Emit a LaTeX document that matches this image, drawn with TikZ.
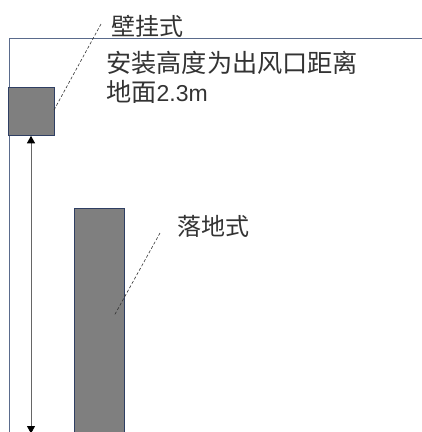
\documentclass[tikz,border=0pt]{standalone}
\usepackage{fontspec}
\newfontfamily\cjk{Noto Sans CJK SC}
\newfontfamily\latn{Liberation Sans}
\usetikzlibrary{arrows.meta}
\definecolor{wallc}{HTML}{5A6B8C}
\definecolor{edgec}{HTML}{2F3F63}
\definecolor{fillc}{HTML}{7F7F7F}
\tikzset{
 unit/.style={draw=edgec,line width=0.7pt,fill=fillc,inner sep=0pt,minimum width=#1},
 lbl/.style={inner sep=0pt,anchor=west,font=\cjk\fontsize{24}{29}\selectfont,align=left,text=black!80},
 leader/.style={densely dashed,line width=0.6pt,black!80},
 dimline/.style={{Triangle[length=7.5pt,width=8pt,black]}-{Triangle[length=7.5pt,width=8pt,black]},line width=0.9pt,black!60},
}
\begin{document}
\begin{tikzpicture}[x=1pt,y=-1pt]
\useasboundingbox (0,0) rectangle (422,432);
\coordinate (tl) at (9,38.5);
\coordinate (tr) at (422,38.5);
\coordinate (bl) at (9,432);
\draw[wallc,line width=1pt] (bl) -- (tl) -- (tr);
\node[unit=45.5pt,minimum height=48pt,anchor=north west] (wall) at (8.3,87.2) {};
\node[unit=50.5pt,minimum height=226pt,anchor=north west] (floor) at (73.8,207.5) {};
\coordinate (a1) at (31,135.8);
\coordinate (a2) at (31,433.5);
\draw[dimline] (a1) -- (a2);
\node[lbl] (t1) at (111,26) {壁挂式};
\node[lbl,font=\cjk\fontsize{25.2}{29}\selectfont] (t2) at (106,77) {安装高度为出风口距离\\地面{\latn\fontsize{23}{29}\selectfont 2.3m}};
\node[lbl] (t3) at (177,226) {落地式};
\coordinate (l1) at (101,24);
\coordinate (l2) at (54,110);
\coordinate (l3) at (160,233);
\coordinate (l4) at (114,316);
\draw[leader] (l1) -- (l2);
\draw[leader] (l3) -- (l4);
\end{tikzpicture}
\end{document}
